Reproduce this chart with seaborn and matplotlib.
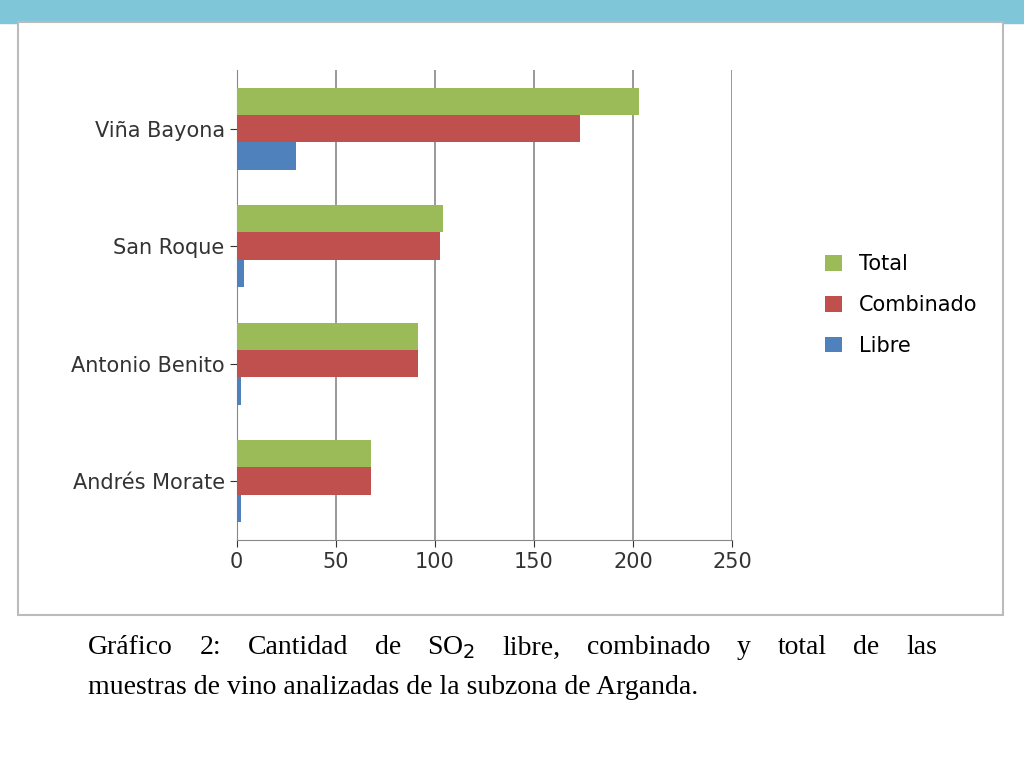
import matplotlib
matplotlib.use("Agg")
import matplotlib.pyplot as plt
import seaborn as sns
import pandas as pd
from matplotlib.patches import Rectangle

categories = ["Viña Bayona", "San Roque", "Antonio Benito", "Andrés Morate"]
total = [203, 104, 91.5, 68]
combinado = [173, 102.5, 91.5, 68]
libre = [30, 4, 2, 2]
series = ["Total", "Combinado", "Libre"]
colors = ["#9BBB59", "#C0504D", "#4F81BD"]
xticks = [0, 50, 100, 150, 200, 250]

rows = []
for i, c in enumerate(categories):
    for s, vals in zip(series, [total, combinado, libre]):
        rows.append({"cat": c, "serie": s, "val": vals[i]})
df = pd.DataFrame(rows)

fig = plt.figure(figsize=(10.24, 7.68), dpi=100)
fig.patch.set_facecolor("white")
fig.add_artist(Rectangle((0, 0.97), 1, 0.03, transform=fig.transFigure, color="#7FC6D8", zorder=0))
fig.add_artist(Rectangle((18/1024, 1-615/768), 985/1024, 593/768, transform=fig.transFigure,
                         facecolor="white", edgecolor="#BBBBBB", lw=1.5, zorder=0))

ax = fig.add_axes([0.231, 0.297, 0.484, 0.612])
sns.barplot(data=df, y="cat", x="val", hue="serie", hue_order=series, order=categories,
            palette=colors, saturation=1, orient="h", width=0.7, ax=ax, zorder=3, edgecolor="none")
ax.set_xlim(0, 250)
ax.set_xticks(xticks)
ax.xaxis.grid(True, color="#888888", lw=1.2, zorder=0)
ax.set_axisbelow(True)
for sp in ["top", "right"]:
    ax.spines[sp].set_visible(False)
ax.spines["left"].set_color("#888888")
ax.spines["bottom"].set_color("#888888")
ax.set_xlabel("")
ax.set_ylabel("")
ax.tick_params(axis="both", labelsize=15, colors="#333333", length=5)
ax.legend(loc="center left", bbox_to_anchor=(1.15, 0.5), frameon=False, fontsize=15,
          handlelength=0.8, handleheight=0.8, labelspacing=1.0)

# justified first caption line
words = ["Gráfico", "2:", "Cantidad", "de", "SO$_2$", "libre,", "combinado", "y", "total", "de", "las"]
fig.canvas.draw()
r = fig.canvas.get_renderer()
texts = [fig.text(0, 1-648/768, w, fontsize=20, family="Liberation Serif", va="center") for w in words]
widths = [t.get_window_extent(r).width for t in texts]
x0, x1 = 88, 937
gap = (x1 - x0 - sum(widths)) / (len(words) - 1)
x = x0
for t, w in zip(texts, widths):
    t.set_x(x/1024)
    x += w + gap
fig.text(88/1024, 1-688/768, "muestras de vino analizadas de la subzona de Arganda.",
         fontsize=20, family="Liberation Serif", va="center")
fig.savefig("out.png", dpi=100)
